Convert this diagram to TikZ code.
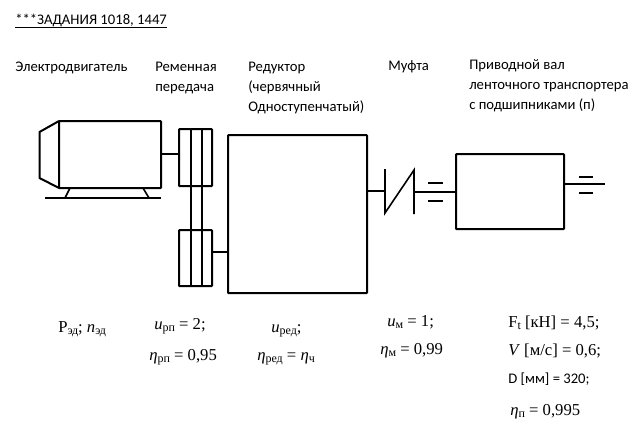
\documentclass[tikz,border=0pt]{standalone}
\usepackage{fontspec}
\setmainfont{Carlito}
\newfontfamily\formfont{Liberation Serif}
\newcommand{\low}[1]{\raisebox{-.35ex}{\fontsize{9}{9}\selectfont #1}}
\tikzset{
    unit/.style={draw, line width=1.5pt, rounded corners=0.5pt, inner sep=0pt, outer sep=0pt},
    caption/.style={anchor=north west, align=left, inner sep=0pt, font=\fontsize{11}{15}\selectfont},
    formula/.style={anchor=base west, inner sep=0pt, font=\formfont\fontsize{12.5}{14}\selectfont},
    shaft/.style={line width=1.5pt},
    bearing/.style={line width=1.5pt}
}
\begin{document}
\begin{tikzpicture}[x=0.75pt, y=-0.75pt]
    \useasboundingbox (0,0) rectangle (640,433);

    % Title
    \node (title) [anchor=base west, inner sep=0pt, font=\fontsize{11}{15}\selectfont] at (15,24) {***ЗАДАНИЯ 1018, 1447};
    \draw[line width=0.6pt] (title.west |- 0,27) -- (title.east |- 0,27);

    % Captions
    \node (capmotor) [caption] at (15,62) {Электродвигатель};
    \node (capbelt) [caption] at (155,62) {Ременная\\передача};
    \node (capreducer) [caption] at (248,62) {Редуктор\\(червячный\\Одноступенчатый)};
    \node (capcoupling) [caption] at (388,60) {Муфта};
    \node (capdrive) [caption] at (469,59) {Приводной вал\\ленточного транспортера\\с подшипниками (п)};

    % Motor
    \node (motor) [unit, minimum width=76.5pt, minimum height=50.25pt] at (110,154.5) {};
    \draw[line width=1.5pt, line join=round] (motor.north west) -- (39.5,132) -- (39.5,178) -- (motor.south west);
    \coordinate (basel) at (45,198);
    \coordinate (baser) at (161,198);
    \draw[line width=1.5pt] (basel) -- (baser);
    \draw[line width=1.2pt] (70,188) -- (65,198);
    \draw[line width=1.2pt] (143,188) -- (149,198);

    % Belt drive
    \node (pulleytop) [unit, minimum width=24.75pt, minimum height=42.75pt] at (195.5,157.5) {};
    \node (pulleybot) [unit, minimum width=24.75pt, minimum height=42pt] at (195.5,258) {};
    \draw[line width=1.5pt] (191,129) -- (191,286);
    \draw[line width=1.5pt] (202,129) -- (202,286);

    % Reducer
    \node (reducer) [unit, minimum width=104.25pt, minimum height=118.5pt] at (297.5,214) {};

    % Coupling
    \coordinate (halfl) at (385,191);
    \coordinate (halfr) at (414,192);
    \draw[line width=1.2pt] (385,169) -- (385,213) -- (414,170) -- (414,214);

    % Drive shaft box
    \node (drum) [unit, minimum width=81pt, minimum height=56.25pt] at (510,191.5) {};
    \coordinate (shaftend) at (605,184);

    % Shafts
    \coordinate (shafta) at (161,154);
    \coordinate (shaftb) at (212,252);
    \coordinate (shaftc) at (367,191);
    \coordinate (shaftd) at (564,184);
    \draw[shaft] (shafta) -- (shafta -| pulleytop.west);
    \draw[shaft] (shaftb) -- (shaftb -| reducer.west);
    \draw[shaft] (shaftc) -- (halfl);
    \draw[shaft] (halfr) -- (halfr -| drum.west);
    \draw[shaft] (shaftd) -- (shaftend);

    % Bearings
    \draw[bearing] (428,183) -- (443,183);
    \draw[bearing] (428,201) -- (443,201);
    \draw[bearing] (579,177) -- (593,177);
    \draw[bearing] (579,193) -- (593,193);

    % Formulas
    \node (fmotor) [formula] at (58,332) {Р\low{эд}; \textit{n}\low{эд}};
    \node (fbelta) [formula] at (154,329) {\textit{u}\low{рп} = 2;};
    \node (fbeltb) [formula] at (149,360) {\textit{η}\low{рп} = 0,95};
    \node (freda) [formula] at (271,332) {\textit{u}\low{ред};};
    \node (fredb) [formula] at (257,360) {\textit{η}\low{ред} = \textit{η}\low{ч}};
    \node (fcoupa) [formula] at (387,326) {\textit{u}\low{м} = 1;};
    \node (fcoupb) [formula] at (380,354) {\textit{η}\low{м} = 0,99};
    \node (fforce) [formula] at (508,327) {F\low{t} [кН] = 4,5;};
    \node (fspeed) [formula] at (508,355) {\textit{V} [м/с] = 0,6;};
    \node (fdiam) [anchor=base west, inner sep=0pt, font=\fontsize{11}{15}\selectfont] at (508,383) {D [мм] = 320;};
    \node (fbear) [formula] at (510,415) {\textit{η}\low{п} = 0,995};
\end{tikzpicture}
\end{document}
